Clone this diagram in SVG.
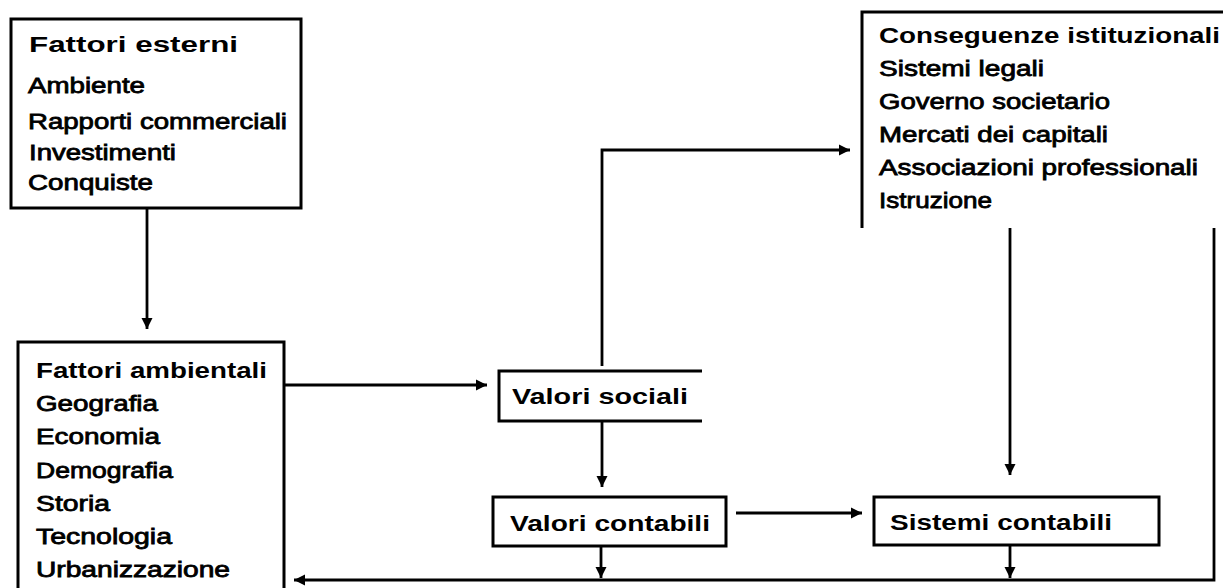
<svg xmlns="http://www.w3.org/2000/svg" width="1223" height="588" viewBox="0 0 1223 588">
  <style>
    .box { fill: none; stroke: #000; stroke-width: 3; }
    .wire { fill: none; stroke: #000; stroke-width: 2.8; }
    text { font-family: "Liberation Sans", Arial, sans-serif; font-size: 22px; fill: #000; }
    .head { font-weight: bold; }
    .item { stroke: #000; stroke-width: 0.8; }
  </style>
  <defs>
    <marker id="tip" viewBox="0 0 12 12" refX="11" refY="6" markerWidth="12" markerHeight="12" markerUnits="userSpaceOnUse" orient="auto">
      <path d="M0,0.5 L11,6 L0,11.5 Z" fill="#000"/>
    </marker>
  </defs>
  <rect width="1223" height="588" fill="#fff"/>

  <!-- Fattori esterni -->
  <g id="fattori-esterni">
    <rect class="box" x="11" y="19" width="290" height="189"/>
    <text class="head" x="29" y="52" font-size="24" textLength="209" lengthAdjust="spacingAndGlyphs">Fattori esterni</text>
    <text class="item" x="28" y="93" textLength="117" lengthAdjust="spacingAndGlyphs">Ambiente</text>
    <text class="item" x="28" y="129" textLength="259" lengthAdjust="spacingAndGlyphs">Rapporti commerciali</text>
    <text class="item" x="29" y="160" textLength="147" lengthAdjust="spacingAndGlyphs">Investimenti</text>
    <text class="item" x="28" y="190" textLength="125" lengthAdjust="spacingAndGlyphs">Conquiste</text>
  </g>

  <!-- Conseguenze istituzionali (open at the bottom) -->
  <g id="conseguenze">
    <path class="box" d="M862,228 V12 H1230"/>
    <text class="head" x="879" y="43" textLength="341" lengthAdjust="spacingAndGlyphs">Conseguenze istituzionali</text>
    <text class="item" x="879" y="76" textLength="165" lengthAdjust="spacingAndGlyphs">Sistemi legali</text>
    <text class="item" x="879" y="109" textLength="231" lengthAdjust="spacingAndGlyphs">Governo societario</text>
    <text class="item" x="879" y="142" textLength="229" lengthAdjust="spacingAndGlyphs">Mercati dei capitali</text>
    <text class="item" x="879" y="175" textLength="319" lengthAdjust="spacingAndGlyphs">Associazioni professionali</text>
    <text class="item" x="879" y="208" textLength="113" lengthAdjust="spacingAndGlyphs">Istruzione</text>
  </g>

  <!-- Fattori ambientali -->
  <g id="fattori-ambientali">
    <path class="box" d="M18,600 V342 H284 V600"/>
    <text class="head" x="36" y="378" textLength="231" lengthAdjust="spacingAndGlyphs">Fattori ambientali</text>
    <text class="item" x="36" y="411" textLength="122" lengthAdjust="spacingAndGlyphs">Geografia</text>
    <text class="item" x="36" y="444" textLength="124" lengthAdjust="spacingAndGlyphs">Economia</text>
    <text class="item" x="36" y="478" textLength="137" lengthAdjust="spacingAndGlyphs">Demografia</text>
    <text class="item" x="36" y="511" textLength="74" lengthAdjust="spacingAndGlyphs">Storia</text>
    <text class="item" x="36" y="544" textLength="136" lengthAdjust="spacingAndGlyphs">Tecnologia</text>
    <text class="item" x="36" y="577" textLength="194" lengthAdjust="spacingAndGlyphs">Urbanizzazione</text>
  </g>

  <!-- Valori sociali (open on the right) -->
  <g id="valori-sociali">
    <path class="box" d="M702,371 H499 V421 H702"/>
    <text class="head" x="512" y="404" font-size="23" textLength="176" lengthAdjust="spacingAndGlyphs">Valori sociali</text>
  </g>

  <!-- Valori contabili -->
  <g id="valori-contabili">
    <rect class="box" x="493" y="497" width="233" height="49"/>
    <text class="head" x="510" y="531" font-size="23" textLength="200" lengthAdjust="spacingAndGlyphs">Valori contabili</text>
  </g>

  <!-- Sistemi contabili -->
  <g id="sistemi-contabili">
    <rect class="box" x="874" y="497" width="285" height="48"/>
    <text class="head" x="890" y="530" font-size="23" textLength="222" lengthAdjust="spacingAndGlyphs">Sistemi contabili</text>
  </g>

  <!-- Connectors -->
  <g id="connectors">
    <path class="wire" d="M147,208 V329" marker-end="url(#tip)"/>
    <path class="wire" d="M284,385 H487" marker-end="url(#tip)"/>
    <path class="wire" d="M602,366 V150 H850" marker-end="url(#tip)"/>
    <path class="wire" d="M602,421 V487" marker-end="url(#tip)"/>
    <path class="wire" d="M736,513 H862" marker-end="url(#tip)"/>
    <path class="wire" d="M1010,228 V475" marker-end="url(#tip)"/>
    <path class="wire" d="M601,546 V578" marker-end="url(#tip)"/>
    <path class="wire" d="M1010,545 V578" marker-end="url(#tip)"/>
    <path class="wire" d="M1214,228 V580 H294" marker-end="url(#tip)"/>
  </g>
</svg>
